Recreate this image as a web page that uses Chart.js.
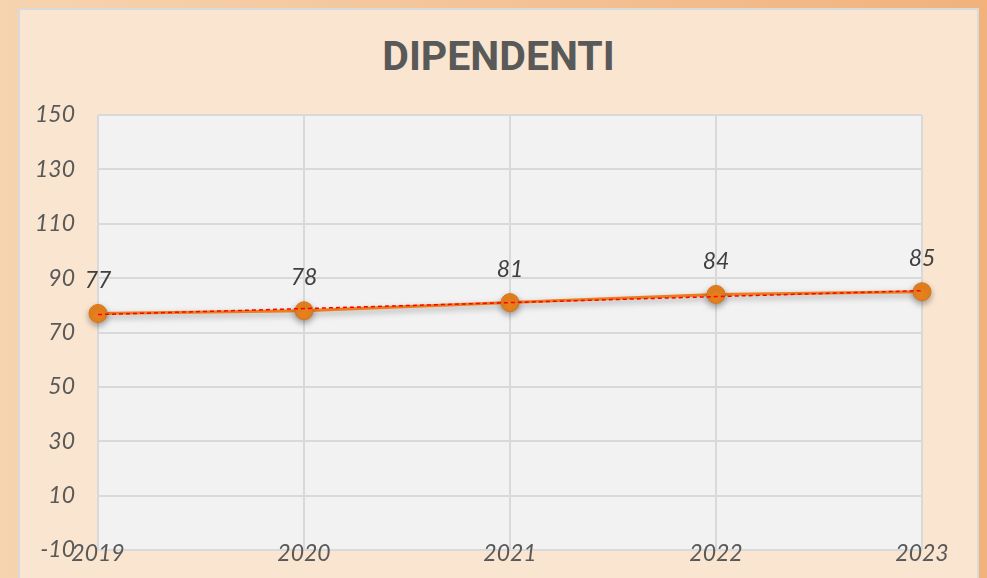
<!DOCTYPE html>
<html>
<head>
<meta charset="utf-8">
<script src="https://cdn.jsdelivr.net/npm/chart.js@4/dist/chart.umd.min.js"></script>
<style>
  html, body { margin:0; padding:0; }
  body {
    width:987px; height:578px; overflow:hidden; position:relative;
    background: linear-gradient(to right, #f6d4b0, #f1b27c);
  }
  #panel {
    position:absolute; left:18px; top:8px; width:957px; height:600px;
    background:#fae6d0; border:2px solid #dadada;
  }
  #title {
    position:absolute; left:18px; width:961px; top:32px; text-align:center;
    font-family:Roboto; font-weight:bold; font-size:41px; line-height:48px; color:#595959;
  }
  #wrap { position:absolute; left:0; top:0; width:987px; height:578px; }
</style>
</head>
<body>
<div id="panel"></div>
<div id="title">DIPENDENTI</div>
<div id="wrap"><canvas id="chart"></canvas></div>
<script>
const years = ['2019', '2020', '2021', '2022', '2023'];
const dipendenti = [77, 78, 81, 84, 85];
// linear trend line
const tendenza = [76.6, 78.8, 81, 83.2, 85.4];
const yTicks = { min: -10, max: 150, step: 20 };

const tickFont = { family: 'Lato', size: 23, style: 'italic' };

const plotBg = {
  id: 'plotBg',
  beforeDraw(chart) {
    const { ctx, chartArea: a } = chart;
    ctx.save();
    ctx.fillStyle = '#f2f2f2';
    ctx.fillRect(a.left, a.top, a.right - a.left, a.bottom - a.top);
    ctx.restore();
  },
};

// soft drop shadow under the orange line
const lineShadow = {
  id: 'lineShadow',
  beforeDatasetDraw(chart, args) {
    if (args.index !== 1) return;
    const ctx = chart.ctx;
    ctx.save();
    ctx.shadowColor = 'rgba(0,0,0,0.35)';
    ctx.shadowBlur = 6;
    ctx.shadowOffsetY = 3;
  },
  afterDatasetDraw(chart, args) {
    if (args.index !== 1) return;
    chart.ctx.restore();
  },
};

const valueLabels = {
  id: 'valueLabels',
  afterDatasetsDraw(chart) {
    const { ctx } = chart;
    const meta = chart.getDatasetMeta(1);
    ctx.save();
    ctx.font = 'italic 23px Lato';
    ctx.fillStyle = '#404040';
    ctx.textAlign = 'center';
    ctx.textBaseline = 'middle';
    meta.data.forEach((pt, i) => {
      ctx.fillText(String(dipendenti[i]), pt.x, pt.y - 33);
    });
    ctx.restore();
  },
};

// year labels sit over the bottom edge of the plot, so draw them last
const yearLabels = {
  id: 'yearLabels',
  afterDraw(chart) {
    const { ctx, chartArea } = chart;
    const xs = chart.scales.x;
    ctx.save();
    ctx.font = 'italic 23px Lato';
    ctx.fillStyle = '#595959';
    ctx.textAlign = 'center';
    ctx.textBaseline = 'middle';
    years.forEach((y, i) => {
      ctx.fillText(y, xs.getPixelForValue(i), chartArea.bottom + 4);
    });
    ctx.restore();
  },
};

// keep the plot area exactly where the afterFit sizes put it
const noPad = (s) => { s.paddingTop = 0; s.paddingBottom = 0; s.paddingLeft = 0; s.paddingRight = 0; };

new Chart(document.getElementById('chart'), {
  type: 'line',
  data: {
    labels: years,
    datasets: [
      {
        label: 'Tendenza',
        data: tendenza,
        borderColor: '#ff0000',
        borderWidth: 1.5,
        borderDash: [4, 3],
        pointRadius: 0,
        fill: false,
        order: 0,
        clip: false,
      },
      {
        label: 'Dipendenti',
        data: dipendenti,
        borderColor: '#ec7d1c',
        borderWidth: 3,
        pointRadius: 9,
        pointBackgroundColor: '#e8821f',
        pointBorderColor: '#d9741a',
        pointBorderWidth: 1,
        fill: false,
        order: 1,
        clip: false,
      },
    ],
  },
  options: {
    responsive: true,
    maintainAspectRatio: false,
    animation: false,
    layout: { padding: { left: 20, right: 65, top: 115, bottom: 0 } },
    plugins: {
      legend: { display: false },
      tooltip: { enabled: false },
      title: { display: false },
    },
    scales: {
      x: {
        offset: false,
        grid: { color: '#d9d9d9', lineWidth: 2, drawTicks: false },
        border: { display: false },
        ticks: { display: false },
        afterFit: (s) => { s.height = 28; noPad(s); },
      },
      y: {
        min: yTicks.min,
        max: yTicks.max,
        grid: { color: '#d9d9d9', lineWidth: 2, drawTicks: false },
        border: { display: false },
        ticks: { stepSize: yTicks.step, color: '#595959', font: tickFont, padding: 23 },
        afterFit: (s) => { s.width = 78; noPad(s); },
      },
    },
  },
  plugins: [plotBg, lineShadow, valueLabels, yearLabels],
});
</script>
</body>
</html>
